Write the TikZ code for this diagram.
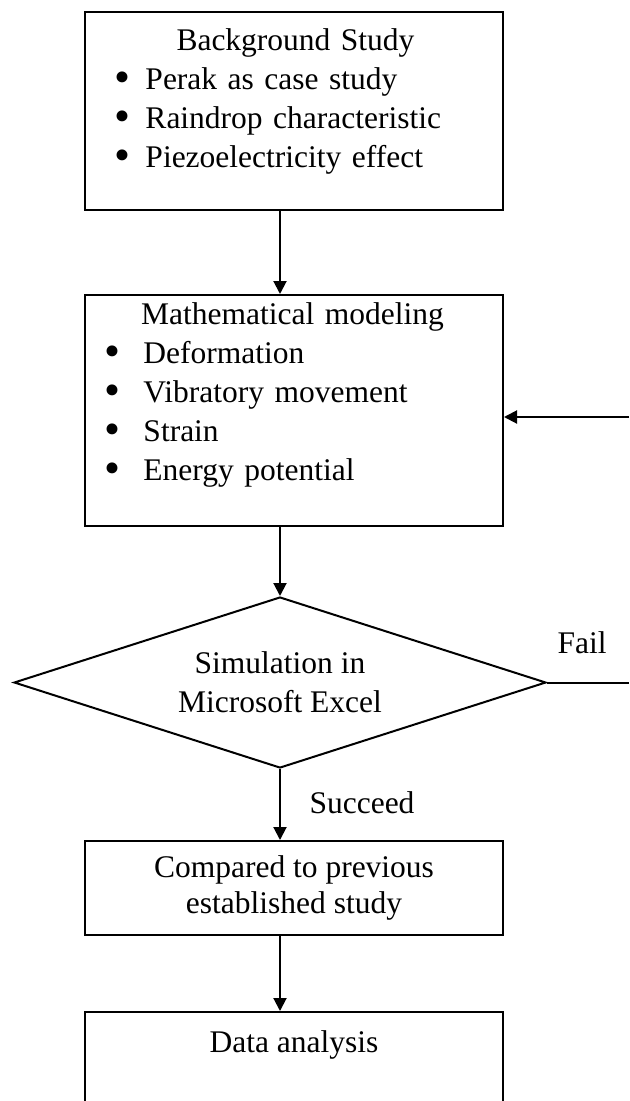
\documentclass[tikz,border=0pt]{standalone}
\usepackage{fontspec}
\setmainfont{Liberation Serif}
\usetikzlibrary{arrows.meta,shapes.geometric}

\tikzset{
  frame/.style={draw,line width=0.8pt,inner sep=0pt},
  flow/.style={line width=0.8pt,-{Triangle[length=5.2pt,width=5.2pt]}},
  listtext/.style={inner sep=0pt,anchor=west,align=left},
}
\newcommand{\bul}[1]{\raisebox{-0.1em}{\scalebox{1.45}{\textbullet}}\hspace{#1}}

\begin{document}
\begin{tikzpicture}[x=0.4pt,y=-0.4pt,font=\fontsize{12.6}{15.6}\selectfont]
    \useasboundingbox (0,0) rectangle (629,1101);
    %% Boxes
    \node[frame,minimum width=167.2pt,minimum height=79.2pt] (bg) at (294,111) {};
    \node[frame,minimum width=167.2pt,minimum height=92.4pt] (model) at (294,410.5) {};
    \node[frame,minimum width=167.2pt,minimum height=37.6pt,align=center] (cmp) at (294,888)
        {Compared to previous\\[-1.2pt]established study};
    \node[frame,minimum width=167.2pt,minimum height=59.2pt] (data) at (294,1086) {};
    %% Decision
    \node[draw,line width=0.8pt,shape=diamond,aspect=3.11,inner sep=0pt,
          minimum width=212.8pt,minimum height=68.4pt,align=center] (sim) at (280,682.5)
        {Simulation in\\Microsoft Excel};
    %% Box texts
    \node[listtext,text width=144.8pt] (bgtxt) at (114,101.5)
        {\hfill Background Study\hfill\null\\
         \bul{6pt}Perak as case study\\
         \bul{6pt}Raindrop characteristic\\
         \bul{6pt}Piezoelectricity effect};
    \node[listtext,text width=150.4pt] (modeltxt) at (104,395)
        {\hfill Mathematical modeling\hfill\null\\
         \bul{9.2pt}Deformation\\
         \bul{9.2pt}Vibratory movement\\
         \bul{9.2pt}Strain\\
         \bul{9.2pt}Energy potential};
    \node[inner sep=0pt] (datatxt) at (294,1045) {Data analysis};
    %% Branch labels
    \node[inner sep=0pt] (fail) at (582,643) {Fail};
    \node[inner sep=0pt] (succ) at (362,803) {Succeed};
    %% Connectors
    \coordinate (spine) at (280,0);
    \coordinate (back) at (629,417);
    \coordinate (out) at (629,686);
    \draw[flow] (spine |- bg.south) -- (spine |- model.north);
    \draw[flow] (spine |- model.south) -- (sim.north);
    \draw[flow] (sim.south) -- (spine |- cmp.north);
    \draw[flow] (spine |- cmp.south) -- (spine |- data.north);
    \draw[flow] (back) -- (back -| model.east);
    \draw[line width=0.8pt] (sim.east) -- (sim.east -| out);
\end{tikzpicture}
\end{document}
